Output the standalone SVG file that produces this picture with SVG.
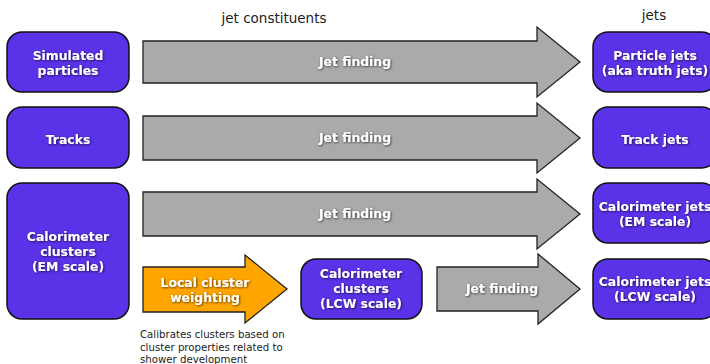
<svg xmlns="http://www.w3.org/2000/svg" width="710" height="364" viewBox="0 0 710 364">
<defs>
<filter id="sh" x="-20%" y="-40%" width="140%" height="180%">
<feDropShadow dx="0.8" dy="0.8" stdDeviation="1" flood-color="#000" flood-opacity="0.7"/>
</filter>
</defs>
<style>
.node{fill:#5a32e8;stroke:#111;stroke-width:1.5}
.arr{fill:#aaaaaa;stroke:#222;stroke-width:1.3}
.orn{fill:#ffa500;stroke:#222;stroke-width:1.3}
.lbl{font-family:"DejaVu Sans",Verdana,sans-serif;font-weight:bold;font-size:12.4px;fill:#fff;text-anchor:middle;filter:url(#sh)}
.hdr{font-family:"DejaVu Sans",Verdana,sans-serif;font-size:13.5px;fill:#222;text-anchor:middle}
.cap{font-family:"DejaVu Sans",Verdana,sans-serif;font-size:10.2px;fill:#222}
</style>
<rect width="710" height="364" fill="#fff"/>
<text class="hdr" x="274" y="23">jet constituents</text>
<text class="hdr" x="654" y="20">jets</text>

<g id="connectors">
<g id="arrow1"><path class="arr" d="M143,41 H537 V27 L580,62 L537,97 V83 H143 Z"/><text class="lbl" x="355" y="66">Jet finding</text></g>
<g id="arrow2"><path class="arr" d="M143,116 H537 V103 L580,138 L537,173 V160 H143 Z"/><text class="lbl" x="355" y="142">Jet finding</text></g>
<g id="arrow3"><path class="arr" d="M143,192 H537 V179 L580,214 L537,249 V236 H143 Z"/><text class="lbl" x="355" y="218">Jet finding</text></g>
<g id="arrow4"><path class="arr" d="M437,267 H538 V254 L580,289 L538,324 V311 H437 Z"/><text class="lbl" x="502" y="293">Jet finding</text></g>
</g>

<g id="lcw"><path class="orn" d="M143,267 H245 V255 L287,289 L245,323 V312 H143 Z"/><text class="lbl" x="205" y="287">Local cluster</text><text class="lbl" x="205" y="302">weighting</text></g>

<g id="sim"><rect class="node" x="7" y="32" width="122" height="60" rx="15"/><text class="lbl" x="68" y="60">Simulated</text><text class="lbl" x="68" y="75">particles</text></g>
<g id="tracks"><rect class="node" x="7" y="107" width="122" height="61" rx="15"/><text class="lbl" x="68" y="144">Tracks</text></g>
<g id="calo"><rect class="node" x="7" y="183" width="122" height="136" rx="15"/><text class="lbl" x="68" y="241">Calorimeter</text><text class="lbl" x="68" y="256">clusters</text><text class="lbl" x="68" y="271">(EM scale)</text></g>
<g id="calolcw"><rect class="node" x="301" y="259" width="121" height="60" rx="15"/><text class="lbl" x="361" y="278">Calorimeter</text><text class="lbl" x="361" y="293">clusters</text><text class="lbl" x="361" y="308">(LCW scale)</text></g>

<g id="pjets"><rect class="node" x="593" y="32" width="124" height="60" rx="15"/><text class="lbl" x="655" y="60">Particle jets</text><text class="lbl" x="655" y="75">(aka truth jets)</text></g>
<g id="tjets"><rect class="node" x="593" y="107" width="124" height="61" rx="15"/><text class="lbl" x="655" y="144">Track jets</text></g>
<g id="cemjets"><rect class="node" x="593" y="183" width="124" height="60" rx="15"/><text class="lbl" x="655" y="211">Calorimeter jets</text><text class="lbl" x="655" y="226">(EM scale)</text></g>
<g id="clcwjets"><rect class="node" x="593" y="259" width="124" height="60" rx="15"/><text class="lbl" x="655" y="286">Calorimeter jets</text><text class="lbl" x="655" y="301">(LCW scale)</text></g>

<text class="cap" x="140" y="338">Calibrates clusters based on</text>
<text class="cap" x="140" y="351">cluster properties related to</text>
<text class="cap" x="140" y="363">shower development</text>
</svg>
